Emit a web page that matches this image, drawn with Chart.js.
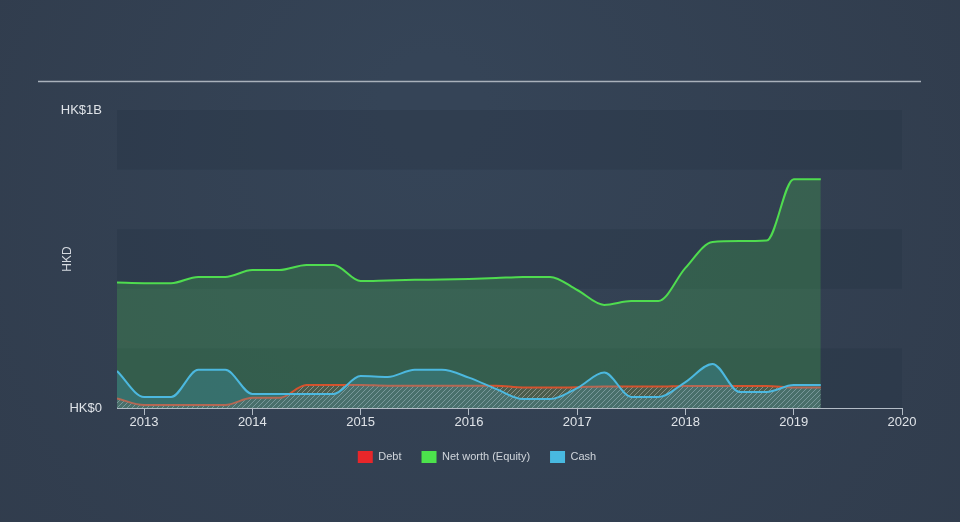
<!DOCTYPE html>
<html>
<head>
<meta charset="utf-8">
<script src="https://cdn.jsdelivr.net/npm/chart.js@4/dist/chart.umd.min.js"></script>
<style>
  html, body { margin: 0; padding: 0; background: #323e4f; }
  #wrap { width: 960px; height: 522px; }
</style>
</head>
<body>
<div id="wrap"><canvas id="chart" width="960" height="522"></canvas></div>
<script>
"use strict";

// Quarterly report dates (decimal years)
const dates = [2012.75, 2013.0, 2013.25, 2013.5, 2013.75, 2014.0, 2014.25, 2014.5, 2014.75,
               2015.0, 2015.25, 2015.5, 2015.75, 2016.0, 2016.25, 2016.5, 2016.75,
               2017.0, 2017.25, 2017.5, 2017.75, 2018.0, 2018.25, 2018.5, 2018.75,
               2019.0, 2019.25];

// Values in HKD
const debt = [0.032e9, 0.010e9, 0.010e9, 0.010e9, 0.010e9, 0.034e9, 0.034e9, 0.077e9, 0.077e9,
              0.077e9, 0.075e9, 0.075e9, 0.075e9, 0.075e9, 0.075e9, 0.069e9, 0.069e9,
              0.070e9, 0.072e9, 0.072e9, 0.072e9, 0.074e9, 0.074e9, 0.074e9, 0.074e9,
              0.069e9, 0.069e9];

const equity = [0.421e9, 0.419e9, 0.419e9, 0.440e9, 0.440e9, 0.463e9, 0.463e9, 0.480e9, 0.480e9,
                0.426e9, 0.428e9, 0.430e9, 0.431e9, 0.433e9, 0.436e9, 0.440e9, 0.440e9,
                0.396e9, 0.346e9, 0.359e9, 0.359e9, 0.470e9, 0.557e9, 0.560e9, 0.562e9,
                0.768e9, 0.768e9];

const cash = [0.124e9, 0.037e9, 0.037e9, 0.128e9, 0.128e9, 0.047e9, 0.047e9, 0.047e9, 0.047e9,
              0.107e9, 0.104e9, 0.128e9, 0.128e9, 0.102e9, 0.064e9, 0.030e9, 0.030e9,
              0.067e9, 0.119e9, 0.037e9, 0.037e9, 0.087e9, 0.148e9, 0.054e9, 0.054e9,
              0.077e9, 0.077e9];

const yearTicks = [2013, 2014, 2015, 2016, 2017, 2018, 2019, 2020];
const yTicks = [0, 1e9];
const yTickLabels = ["HK$0", "HK$1B"];
const bandEdges = [0, 0.2e9, 0.4e9, 0.6e9, 0.8e9, 1e9];

const seriesNames = ["Debt", "Net worth (Equity)", "Cash"];
const legendColors = ["#e8262a", "#4ce24c", "#48b9e0"];

const FONT = "'Liberation Sans', Arial, sans-serif";

function toPoints(values) {
    return values.map((v, i) => ({ x: dates[i], y: v }));
}

// hatched fill for debt
function makeHatch() {
    const c = document.createElement("canvas");
    c.width = 5;
    c.height = 5;
    const g = c.getContext("2d");
    g.fillStyle = "rgba(170, 90, 70, 0.2)";
    g.fillRect(0, 0, 5, 5);
    g.strokeStyle = "rgba(185, 185, 185, 0.55)";
    g.lineWidth = 1;
    g.beginPath();
    g.moveTo(0, 5);
    g.lineTo(5, 0);
    g.moveTo(-1, 1);
    g.lineTo(1, -1);
    g.moveTo(4, 6);
    g.lineTo(6, 4);
    g.stroke();
    return g.createPattern(c, "repeat");
}

const ctx = document.getElementById("chart").getContext("2d");

// background, bands and the top rule
const backdrop = {
    id: "backdrop",
    beforeDraw(chart) {
        const c = chart.ctx;
        const w = chart.width, h = chart.height;
        const grad = c.createRadialGradient(w * 0.45, h * 0.2, 50, w * 0.5, h * 0.5, w * 0.7);
        grad.addColorStop(0, "#354457");
        grad.addColorStop(1, "#303b4b");
        c.save();
        c.fillStyle = grad;
        c.fillRect(0, 0, w, h);

        const area = chart.chartArea;
        const y = chart.scales.y;
        for (let i = 0; i < bandEdges.length - 1; i++) {
            if (i % 2 === 0) {
                const top = y.getPixelForValue(bandEdges[i + 1]);
                const bot = y.getPixelForValue(bandEdges[i]);
                c.fillStyle = "rgba(38, 50, 65, 0.3)";
                c.fillRect(area.left, top, area.right - area.left, bot - top);
            }
        }

        c.strokeStyle = "#a9b1bb";
        c.lineWidth = 1.5;
        c.beginPath();
        c.moveTo(38, 81.5);
        c.lineTo(921, 81.5);
        c.stroke();
        c.restore();
    }
};

new Chart(ctx, {
    type: "line",
    data: {
        datasets: [
            {
                label: seriesNames[0],
                data: toPoints(debt),
                borderColor: "#d4532e",
                backgroundColor: makeHatch(),
                borderWidth: 2,
                fill: "origin",
                order: 2
            },
            {
                label: seriesNames[1],
                data: toPoints(equity),
                borderColor: "#4fdc4f",
                backgroundColor: "rgba(78, 228, 78, 0.2)",
                borderWidth: 2,
                fill: "origin",
                order: 3
            },
            {
                label: seriesNames[2],
                data: toPoints(cash),
                borderColor: "#4cb8df",
                backgroundColor: "rgba(69, 184, 224, 0.22)",
                borderWidth: 2,
                fill: "origin",
                order: 1
            }
        ]
    },
    options: {
        responsive: false,
        animation: false,
        cubicInterpolationMode: "monotone",
        elements: { point: { radius: 0, hoverRadius: 0 } },
        layout: { padding: { left: 52, right: 58, top: 110, bottom: 49 } },
        scales: {
            x: {
                type: "linear",
                min: 2012.75,
                max: 2020,
                afterBuildTicks: s => { s.ticks = yearTicks.map(v => ({ value: v })); },
                afterFit: s => { s.height = 23; },
                ticks: {
                    color: "#dfe3e8",
                    font: { family: FONT, size: 13 },
                    padding: 0,
                    maxRotation: 0,
                    callback: v => String(v)
                },
                grid: {
                    drawOnChartArea: false,
                    drawTicks: true,
                    tickLength: 7,
                    color: "#b3bcc6"
                },
                border: { display: true, color: "#b3bcc6", width: 1 }
            },
            y: {
                min: 0,
                max: 1e9,
                afterBuildTicks: s => { s.ticks = yTicks.map(v => ({ value: v })); },
                afterFit: s => { s.width = 65; },
                ticks: {
                    color: "#dfe3e8",
                    font: { family: FONT, size: 13 },
                    padding: 7,
                    callback: v => yTickLabels[yTicks.indexOf(v)]
                },
                grid: { display: false },
                border: { display: false },
                title: {
                    display: true,
                    text: "HKD",
                    color: "#d4d9df",
                    font: { family: FONT, size: 12 },
                    padding: { top: 8, bottom: 0 }
                }
            }
        },
        plugins: {
            legend: {
                position: "bottom",
                labels: {
                    boxWidth: 15,
                    boxHeight: 12,
                    padding: 20,
                    color: "#d0d5db",
                    font: { family: FONT, size: 11 },
                    sort: (a, b) => a.datasetIndex - b.datasetIndex,
                    generateLabels: chart => chart.data.datasets.map((d, i) => ({
                        text: d.label,
                        fillStyle: legendColors[i],
                        strokeStyle: legendColors[i],
                        lineWidth: 0,
                        fontColor: "#d0d5db",
                        datasetIndex: i,
                        hidden: false
                    }))
                }
            },
            tooltip: { enabled: false }
        }
    },
    plugins: [backdrop]
});
</script>
</body>
</html>
